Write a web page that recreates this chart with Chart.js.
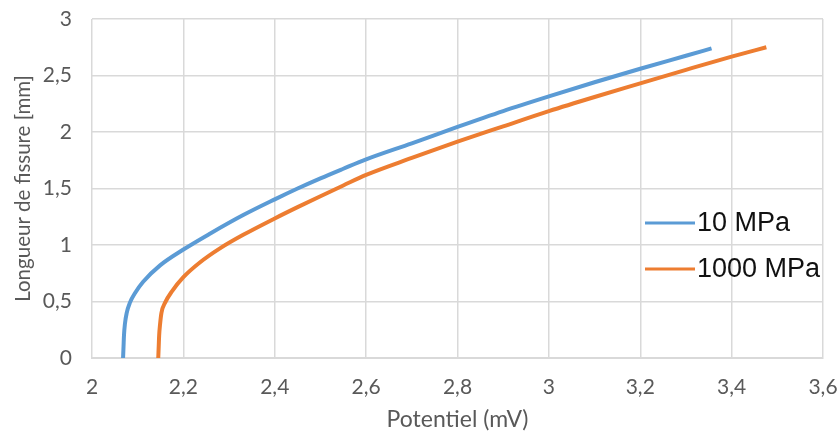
<!DOCTYPE html>
<html>
<head>
<meta charset="utf-8">
<script src="https://cdn.jsdelivr.net/npm/chart.js@4"></script>
<style>
  html, body { margin: 0; padding: 0; background: #fff; }
  #wrap { width: 840px; height: 434px; }
</style>
</head>
<body>
<div id="wrap"><canvas id="fissureChart" width="840" height="434"></canvas></div>
<script>
// valeurs
const seriesNames = ['10 MPa', '1000 MPa'];
const potentiel10 = [2.068, 2.069, 2.070, 2.072, 2.076, 2.083, 2.095, 2.112, 2.149, 2.2, 2.258, 2.331, 2.4, 2.45, 2.5, 2.55, 2.6, 2.7, 2.8, 2.9, 3.0, 3.1, 3.2, 3.3, 3.356];
const longueur10  = [0, 0.1, 0.2, 0.3, 0.4, 0.49, 0.58, 0.675, 0.82, 0.96, 1.10, 1.265, 1.404, 1.50, 1.59, 1.675, 1.758, 1.90, 2.045, 2.185, 2.315, 2.44, 2.56, 2.675, 2.74];
const potentiel1000 = [2.145, 2.146, 2.147, 2.149, 2.152, 2.16, 2.175, 2.2, 2.236, 2.28, 2.331, 2.40, 2.45, 2.50, 2.55, 2.60, 2.7, 2.8, 2.9, 3.0, 3.1, 3.2, 3.3, 3.4, 3.476];
const longueur1000  = [0, 0.1, 0.2, 0.3, 0.4, 0.49, 0.59, 0.715, 0.845, 0.97, 1.09, 1.235, 1.335, 1.432, 1.527, 1.62, 1.77, 1.914, 2.05, 2.185, 2.31, 2.43, 2.55, 2.667, 2.75];
const xTicks = [2, 2.2, 2.4, 2.6, 2.8, 3, 3.2, 3.4, 3.6];
const yTicks = [0, 0.5, 1, 1.5, 2, 2.5, 3];

const colors = ['#5B9BD5', '#ED7D31'];

function toPoints(xs, ys) {
    return xs.map((x, i) => ({ x: x, y: ys[i] }));
}

const fr = v => String(Math.round(v * 10) / 10).replace('.', ',');

// legende dans la zone du graphique, a droite
const insideLegend = {
    id: 'insideLegend',
    afterDraw(chart) {
        const ctx = chart.ctx;
        const area = chart.chartArea;
        const x0 = area.right - 178;
        const rows = [223, 269];
        ctx.save();
        ctx.font = '27px "Liberation Sans", Arial, sans-serif';
        ctx.textBaseline = 'middle';
        ctx.textAlign = 'left';
        chart.data.datasets.forEach((ds, i) => {
            ctx.strokeStyle = ds.borderColor;
            ctx.lineWidth = 3;
            ctx.beginPath();
            ctx.moveTo(x0, rows[i]);
            ctx.lineTo(x0 + 50, rows[i]);
            ctx.stroke();
            ctx.fillStyle = '#111';
            ctx.fillText(ds.label, x0 + 52, rows[i] + 1);
        });
        ctx.restore();
    }
};

new Chart(document.getElementById('fissureChart'), {
    type: 'scatter',
    data: {
        datasets: [
            { label: seriesNames[0], data: toPoints(potentiel10, longueur10) },
            { label: seriesNames[1], data: toPoints(potentiel1000, longueur1000) }
        ].map((ds, i) => Object.assign(ds, {
            showLine: true,
            borderColor: colors[i],
            backgroundColor: colors[i],
            borderWidth: 4,
            pointRadius: 0,
            cubicInterpolationMode: 'monotone'
        }))
    },
    options: {
        responsive: false,
        animation: false,
        layout: { padding: { top: 19, right: 17, left: 0, bottom: 0 } },
        plugins: { legend: { display: false }, tooltip: { enabled: false } },
        scales: {
            x: {
                type: 'linear',
                min: 2, max: 3.6,
                afterBuildTicks: s => { s.ticks = xTicks.map(v => ({ value: v })); },
                afterFit: s => { s.height = 76; },
                // tick marks invisibles : l'espace vient de tickLength
                grid: { color: '#d9d9d9', lineWidth: 1.5, tickLength: 17, tickColor: 'rgba(0,0,0,0)' },
                border: { color: '#d9d9d9', width: 2 },
                ticks: {
                    padding: 0,
                    color: '#595959',
                    font: { family: 'Lato', size: 21 },
                    callback: v => fr(v)
                },
                title: {
                    display: true,
                    text: 'Potentiel (mV)',
                    color: '#595959',
                    font: { family: 'Lato', size: 23 },
                    padding: { top: 0, bottom: 1 }
                }
            },
            y: {
                type: 'linear',
                min: 0, max: 3,
                afterBuildTicks: s => { s.ticks = yTicks.map(v => ({ value: v })); },
                afterFit: s => { s.width = 92; },
                grid: { color: '#d9d9d9', lineWidth: 1.5, tickLength: 20, tickColor: 'rgba(0,0,0,0)' },
                border: { display: false },
                ticks: {
                    padding: 0,
                    color: '#595959',
                    font: { family: 'Lato', size: 21 },
                    callback: v => fr(v)
                },
                title: {
                    display: true,
                    text: 'Longueur de fissure [mm]',
                    color: '#595959',
                    font: { family: 'Lato', size: 20.5 },
                    padding: { top: 11, bottom: 0 }
                }
            }
        }
    },
    plugins: [insideLegend]
});
</script>
</body>
</html>
